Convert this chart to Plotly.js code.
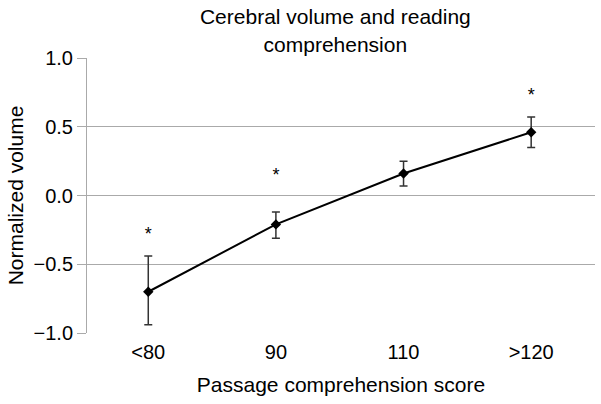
<!DOCTYPE html>
<html>
<head>
<meta charset="utf-8">
<script src="https://cdn.plot.ly/plotly-3.0.1.min.js"></script>
<style>
  html, body { margin: 0; padding: 0; background: #fff; }
  #plot { width: 601px; height: 404px; }
</style>
</head>
<body>
<div id="plot"></div>
<script>
// Data
let scores = ['<80', '90', '110', '>120'];
let volume = [-0.70, -0.21, 0.16, 0.46];
let errPlus = [0.26, 0.09, 0.09, 0.11];
let errMinus = [0.24, 0.10, 0.09, 0.11];
// asterisks for significant groups
let starScores = ['<80', '90', '>120'];
let starY = [-0.29, 0.14, 0.72];

let font = 'Liberation Sans, Arial, Helvetica, sans-serif';

let trace1 = {
    x: scores,
    y: volume,
    type: 'scatter',
    mode: 'lines+markers',
    line: { color: '#000', width: 2 },
    marker: { symbol: 'diamond', size: 8, color: '#000' },
    error_y: {
        type: 'data',
        symmetric: false,
        array: errPlus,
        arrayminus: errMinus,
        color: '#333',
        thickness: 1.5,
        width: 4
    },
    showlegend: false,
    hoverinfo: 'skip'
};

let trace2 = {
    x: starScores,
    y: starY,
    type: 'scatter',
    mode: 'text',
    text: starScores.map(() => '*'),
    textfont: { family: font, size: 18, color: '#000' },
    textposition: 'middle center',
    showlegend: false,
    hoverinfo: 'skip'
};

let data = [trace1, trace2];

let layout = {
    width: 601,
    height: 404,
    margin: { l: 87, r: 6, t: 58, b: 71 },
    paper_bgcolor: '#fff',
    plot_bgcolor: '#fff',
    font: { family: font, size: 20, color: '#000' },
    title: {
        text: 'Cerebral volume and reading<br>comprehension',
        font: { family: font, size: 21, color: '#000' },
        x: 0.558,
        xanchor: 'center',
        y: 0.94,
        yanchor: 'top'
    },
    xaxis: {
        type: 'category',
        range: [-0.48, 3.5],
        showgrid: false,
        zeroline: false,
        showline: false,
        ticks: '',
        tickfont: { size: 20 },
        ticklabelstandoff: 5,
        title: { text: 'Passage comprehension score', font: { size: 21 }, standoff: 15 }
    },
    yaxis: {
        range: [-1.0, 1.0],
        tickvals: [-1.0, -0.5, 0.0, 0.5, 1.0],
        ticktext: ['\u22121.0', '\u22120.5', '0.0', '0.5', '1.0'],
        showgrid: true,
        gridcolor: '#aaa',
        gridwidth: 1,
        zeroline: false,
        showline: true,
        linecolor: '#aaa',
        linewidth: 1,
        ticks: 'outside',
        ticklen: 9,
        tickcolor: '#aaa',
        tickfont: { size: 20 },
        title: { text: 'Normalized volume', font: { size: 21 }, standoff: 4 }
    }
};

Plotly.newPlot('plot', data, layout, { displayModeBar: false, staticPlot: true });
</script>
</body>
</html>
